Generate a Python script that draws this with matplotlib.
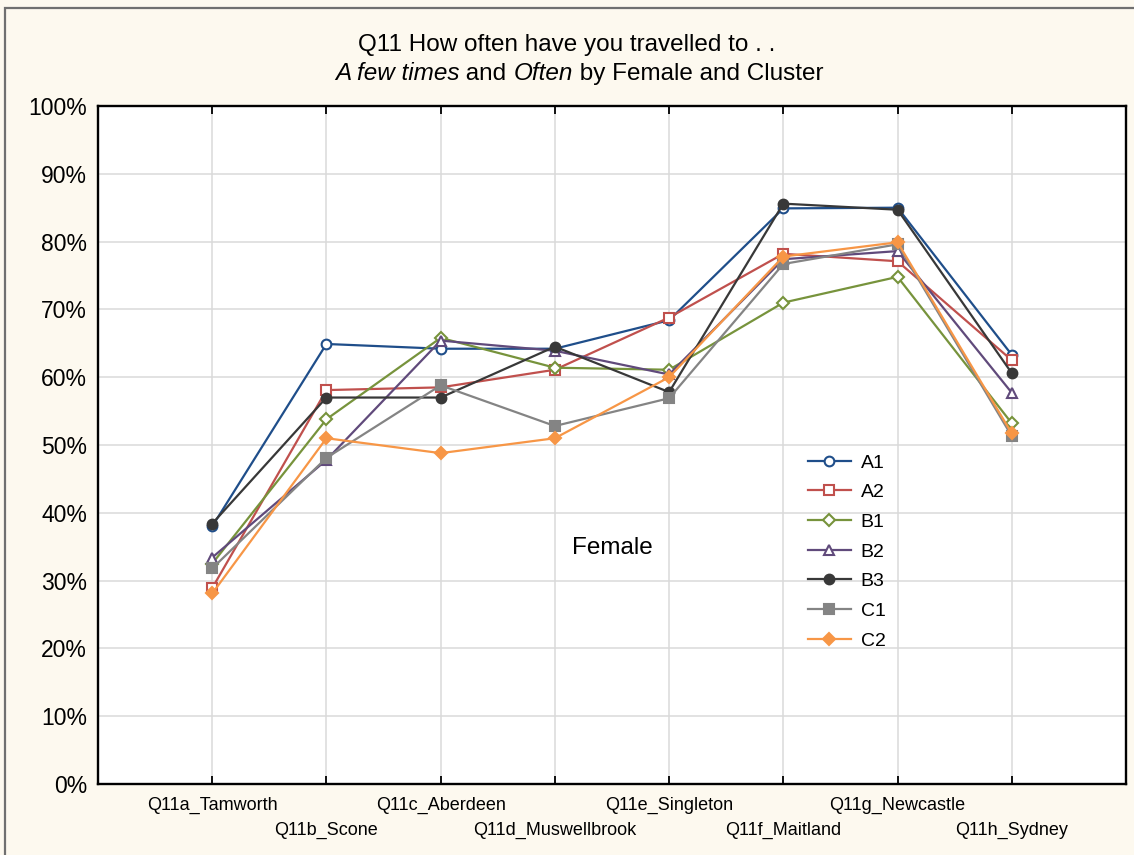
import matplotlib
matplotlib.use("Agg")
import matplotlib.pyplot as plt
from matplotlib.patches import Rectangle
from matplotlib.ticker import FuncFormatter, MultipleLocator

plt.rcParams['font.family'] = ['Liberation Sans', 'DejaVu Sans']

# Towns asked about in Q11
towns = ["Q11a_Tamworth", "Q11b_Scone", "Q11c_Aberdeen", "Q11d_Muswellbrook",
         "Q11e_Singleton", "Q11f_Maitland", "Q11g_Newcastle", "Q11h_Sydney"]

# Share of female respondents answering "A few times" or "Often" (%), by cluster
a1 = [38.0, 64.9, 64.2, 64.2, 68.4, 84.9, 85.0, 63.3]
a2 = [28.9, 58.1, 58.5, 61.1, 68.8, 78.2, 77.1, 62.5]
b1 = [32.5, 53.8, 65.8, 61.4, 61.1, 71.0, 74.8, 53.2]
b2 = [33.4, 47.8, 65.4, 63.9, 60.4, 77.4, 78.6, 57.7]
b3 = [38.4, 57.0, 57.0, 64.5, 57.8, 85.6, 84.7, 60.6]
c1 = [31.8, 48.1, 58.8, 52.8, 56.9, 76.7, 79.6, 51.3]
c2 = [28.1, 51.0, 48.8, 51.0, 60.0, 77.8, 79.9, 51.7]

series = [
    ("A1", a1, "#1f4e8a", "o", "none"),
    ("A2", a2, "#c0504d", "s", "none"),
    ("B1", b1, "#77933c", "D", "none"),
    ("B2", b2, "#604a7b", "^", "none"),
    ("B3", b3, "#383838", "o", "full"),
    ("C1", c1, "#848484", "s", "full"),
    ("C2", c2, "#f79646", "D", "full"),
]

W, H = 1134, 855
bg = "#fdf9ef"
fig = plt.figure(figsize=(W / 100, H / 100), dpi=100, facecolor=bg)

# outer frame
fig.patches.append(Rectangle((5 / W, -0.05), 1.2, (H - 8) / H + 0.05,
                             transform=fig.transFigure, fill=False,
                             edgecolor="#707070", linewidth=1.6))

ax = fig.add_axes([98 / W, 71 / H, 1028 / W, 678 / H])
ax.set_facecolor("white")

x = list(range(1, len(towns) + 1))
for name, vals, col, mk, fill in series:
    small = mk == "D"
    ax.plot(x, vals, color=col, linewidth=1.6, marker=mk,
            markersize=6 if small else 7,
            markerfacecolor=(col if fill == "full" else "white"),
            markeredgecolor=col, markeredgewidth=1.5, label=name, zorder=3)

ax.set_xlim(0, len(towns) + 1)
ax.set_ylim(0, 100)
ax.yaxis.set_major_locator(MultipleLocator(10))
ax.yaxis.set_major_formatter(FuncFormatter(lambda v, p: f"{v:.0f}%"))
ax.set_xticks(x)
ax.set_xticklabels(towns, fontsize=13)
ax.grid(True, color="#dadada", linewidth=1.1)
ax.set_axisbelow(True)
for s in ax.spines.values():
    s.set_linewidth(1.7)
    s.set_color("black")
ax.tick_params(axis="x", direction="in", length=6, width=1.3, top=True, pad=9)
ax.tick_params(axis="y", length=0, labelsize=16.5, pad=8)
# stagger the town labels on two rows
for i, tk in enumerate(ax.xaxis.get_major_ticks()):
    if i % 2 == 1:
        tk.set_pad(27)

ax.text(0.5, 0.348, "Female", transform=ax.transAxes, ha="center", va="center",
        fontsize=17.5)

ax.legend(loc="upper left", bbox_to_anchor=(808 / W, (H - 454) / H),
          bbox_transform=fig.transFigure, frameon=False, fontsize=14,
          handlelength=2.2, handletextpad=0.5, labelspacing=0.62,
          borderpad=0, borderaxespad=0)

# two-line title, second line mixes italic and upright runs
fig.text(567 / W, 1 - 45 / H, "Q11 How often have you travelled to . .",
         ha="center", va="center", fontsize=17.5)
runs = [("A few times", "italic"), (" and ", "normal"), ("Often", "italic"),
        (" by Female and Cluster", "normal")]
renderer = fig.canvas.get_renderer()
pieces = []
for txt, style in runs:
    t = fig.text(0, 1 - 74 / H, txt, ha="left", va="center", fontsize=17.5,
                 style=style)
    pieces.append(t)
widths = [p.get_window_extent(renderer).width for p in pieces]
xpos = 579 - sum(widths) / 2
for p, w in zip(pieces, widths):
    p.set_x(xpos / W)
    xpos += w

fig.savefig("out.png", dpi=100, facecolor=bg)
